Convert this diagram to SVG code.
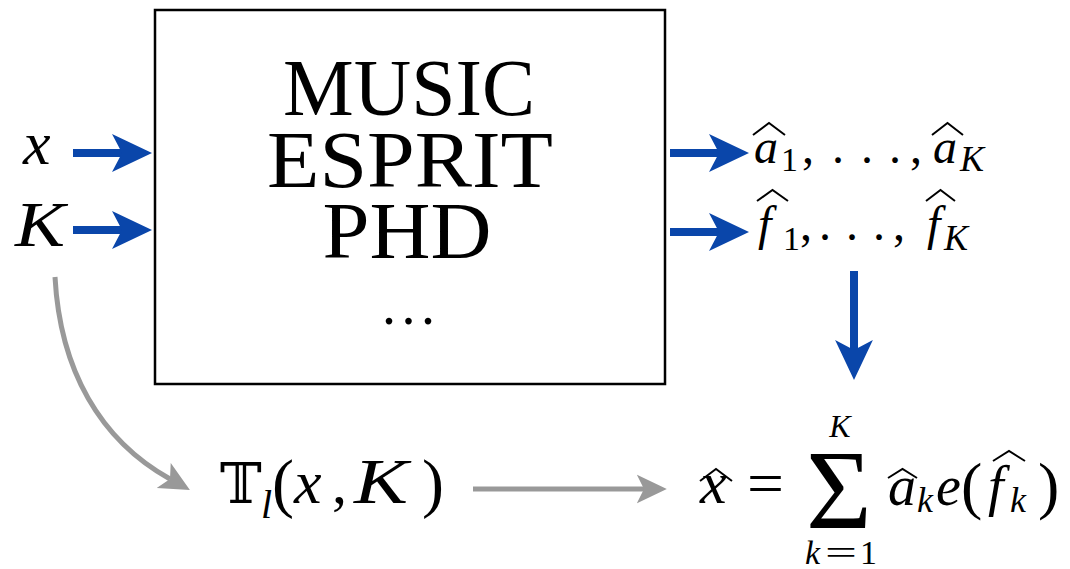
<svg xmlns="http://www.w3.org/2000/svg" width="1070" height="569" viewBox="0 0 1070 569">
<style>
.rm{font-family:"Liberation Serif","DejaVu Serif",serif;fill:#000}
.it{font-family:"Liberation Serif","DejaVu Serif",serif;font-style:italic;fill:#000}
.hat{fill:none;stroke:#000;stroke-width:2;stroke-linejoin:miter}
.blue{stroke:#0a46aa;stroke-width:8;fill:none}
.gray{stroke:#999999;stroke-width:5;fill:none}
</style>
<defs>
<marker id="bh" markerUnits="userSpaceOnUse" markerWidth="40" markerHeight="40" viewBox="0 0 36 34" refX="9" refY="17" orient="auto">
<path d="M0,0 L36,17 L0,34 L9,17 z" fill="#0a46aa"/>
</marker>
<marker id="gh" markerUnits="userSpaceOnUse" markerWidth="30" markerHeight="30" viewBox="0 0 25 24" refX="6" refY="12" orient="auto">
<path d="M0,0 L25,12 L0,24 L6,12 z" fill="#999999"/>
</marker>
</defs>
<rect width="1070" height="569" fill="#fff"/>

<g id="methods">
<rect x="155" y="10" width="510" height="374" fill="#fff" stroke="#000" stroke-width="2.5"/>
<text class="rm" x="409" y="115" font-size="80" text-anchor="middle" textLength="252" lengthAdjust="spacingAndGlyphs">MUSIC</text>
<text class="rm" x="410" y="187" font-size="80" text-anchor="middle" textLength="286" lengthAdjust="spacingAndGlyphs">ESPRIT</text>
<text class="rm" x="407" y="258" font-size="80" text-anchor="middle" textLength="169" lengthAdjust="spacingAndGlyphs">PHD</text>
<text class="rm" x="382" y="324" font-size="56" letter-spacing="5.5">...</text>
</g>

<g id="input-x">
<text class="it" x="23" y="164" font-size="62">x</text>
</g>
<g id="input-K">
<text class="it" x="15" y="246" font-size="64" textLength="50" lengthAdjust="spacingAndGlyphs">K</text>
</g>

<g id="output-a">
<text class="it" x="754" y="163" font-size="48">a</text>
<path class="hat" d="M753,135 L769,123 L785,135"/>
<text class="rm" x="781" y="171" font-size="34">1</text>
<text class="rm" x="802" y="163" font-size="48">,</text>
<text class="rm" y="163" font-size="48"><tspan x="832">.</tspan><tspan x="861">.</tspan><tspan x="889">.</tspan></text>
<text class="rm" x="910" y="163" font-size="48">,</text>
<text class="it" x="933" y="163" font-size="48">a</text>
<path class="hat" d="M932,135 L947.5,123 L963,135"/>
<text class="it" x="960" y="171" font-size="36">K</text>
</g>

<g id="output-f">
<text class="it" x="758" y="240" font-size="48">f</text>
<path class="hat" d="M757,201 L772.5,190 L788,201"/>
<text class="rm" x="783" y="250" font-size="34">1</text>
<text class="rm" x="800" y="240" font-size="48">,</text>
<text class="rm" y="240" font-size="48"><tspan x="819">.</tspan><tspan x="846">.</tspan><tspan x="873">.</tspan></text>
<text class="rm" x="893" y="240" font-size="48">,</text>
<text class="it" x="927" y="240" font-size="48">f</text>
<path class="hat" d="M926,201 L940.5,190 L955,201"/>
<text class="it" x="944" y="250" font-size="36">K</text>
</g>

<g id="truncation">
<text x="220" y="503" font-size="56" font-family="DejaVu Serif, DejaVu Sans, sans-serif">𝕋</text>
<text class="it" x="261" y="518" font-size="40">l</text>
<text class="rm" x="272" y="505" font-size="66">(</text>
<text class="it" x="294" y="503" font-size="62">x</text>
<text class="rm" x="332" y="503" font-size="60">,</text>
<text class="it" x="354" y="503" font-size="64" textLength="54" lengthAdjust="spacingAndGlyphs">K</text>
<text class="rm" x="422" y="505" font-size="66">)</text>
</g>

<g id="estimate">
<text class="it" x="700" y="503" font-size="60">x</text>
<path class="hat" d="M700,481 L716,469 L732,481"/>
<text class="rm" x="747" y="503" font-size="60" textLength="37" lengthAdjust="spacingAndGlyphs">=</text>
<text class="rm" x="839" y="528" font-size="113" text-anchor="middle">Σ</text>
<text class="it" x="840" y="437" font-size="32" text-anchor="middle">K</text>
<text class="rm" y="564" font-size="34"><tspan class="it" x="805">k</tspan><tspan x="825" textLength="32" lengthAdjust="spacingAndGlyphs">=</tspan><tspan x="860">1</tspan></text>
<text class="it" x="888" y="505" font-size="56">a</text>
<path class="hat" d="M888,478 L902.5,469 L917,478"/>
<text class="it" x="917" y="512" font-size="36">k</text>
<text class="it" x="936" y="505" font-size="56">e</text>
<text class="rm" x="961" y="507" font-size="64">(</text>
<text class="it" x="988" y="505" font-size="56">f</text>
<path class="hat" d="M993,461 L1009,451 L1025,461"/>
<text class="it" x="1010" y="512" font-size="36">k</text>
<text class="rm" x="1038" y="507" font-size="64">)</text>
</g>

<g id="connectors">
<line class="blue" x1="73" y1="153" x2="122" y2="153" marker-end="url(#bh)"/>
<line class="blue" x1="73" y1="230" x2="122" y2="230" marker-end="url(#bh)"/>
<line class="blue" x1="670" y1="153" x2="719" y2="153" marker-end="url(#bh)"/>
<line class="blue" x1="670" y1="232" x2="719" y2="232" marker-end="url(#bh)"/>
<line class="blue" x1="854" y1="271" x2="854" y2="350" marker-end="url(#bh)"/>
<path class="gray" d="M55,277 C60,370 100,440 170,479" marker-end="url(#gh)"/>
<line class="gray" x1="473" y1="489" x2="644" y2="489" marker-end="url(#gh)"/>
</g>
</svg>
